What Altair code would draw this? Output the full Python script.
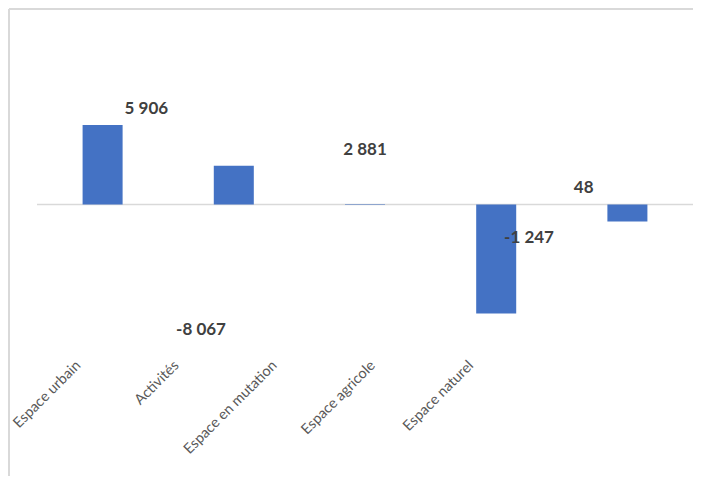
import altair as alt
import pandas as pd

categories = ["Espace urbain", "Activités", "Espace en mutation", "Espace agricole", "Espace naturel"]
values = [5906, 2881, 48, -8067, -1247]
labels = ["5 906", "2 881", "48", "-8 067", "-1 247"]
title_lines = ["Evolution de l'occupation des sols",
               "entre 2000-2015 sur l'aire urbaine de Lyon (en hectares)"]

df = pd.DataFrame({"cat": categories, "val": values, "lab": labels})
df_pos = df[df["val"] >= 0].reset_index(drop=True)
df_neg = df[df["val"] < 0].reset_index(drop=True)
df_zero = pd.DataFrame({"z": [0]})

FONT = "Lato"

x = alt.X("cat:N", sort=categories, title=None,
          scale=alt.Scale(paddingInner=0.695, paddingOuter=0.3475), axis=None)
y = alt.Y("val:Q", title=None, axis=None,
          scale=alt.Scale(domain=[-9000, 8200], nice=False))

bars = alt.Chart(df).mark_bar(color="#4472C4").encode(x=x, y=y)

zero = alt.Chart(df_zero).mark_rule(color="#D9D9D9", strokeWidth=1.5).encode(
    y=alt.Y("z:Q", axis=None))

pos = alt.Chart(df_pos).mark_text(
    font=FONT, fontSize=17, fontWeight="bold", color="#404040",
    baseline="alphabetic", dy=-11).encode(x=x, y=y, text="lab:N")
neg = alt.Chart(df_neg).mark_text(
    font=FONT, fontSize=17, fontWeight="bold", color="#404040",
    baseline="alphabetic", dy=22).encode(x=x, y=y, text="lab:N")

# category labels sit on a compressed band, as in the original picture
label_axis = alt.Chart(df).mark_point(opacity=0).encode(
    x=alt.X("cat:N", sort=categories, title=None,
            scale=alt.Scale(range=[-8, 483], paddingInner=0, paddingOuter=0),
            axis=alt.Axis(labelAngle=-45, labelAlign="right", labelBaseline="middle",
                          labelFont=FONT, labelFontSize=14.5, labelColor="#595959",
                          ticks=False, domain=False, labelPadding=37)),
    y=y)

border_left = alt.Chart(df_zero).mark_rule(color="#D9D9D9", strokeWidth=2).encode(
    x=alt.value(-28), y=alt.value(-85), y2=alt.value(400))
border_top = alt.Chart(df_zero).mark_rule(color="#D9D9D9", strokeWidth=2).encode(
    x=alt.value(-28), x2=alt.value(660), y=alt.value(-85))

chart = alt.layer(border_left, border_top, zero, bars, pos, neg, label_axis).resolve_scale(
    x="independent").properties(
    width=656, height=232,
    title=alt.TitleParams(text=title_lines, font=FONT, fontSize=21, fontWeight="bold",
                          color="#595959", anchor="middle", offset=21, dx=-9),
    autosize=alt.AutoSizeParams(type="none"),
    padding={"left": 29, "top": 86, "right": 0, "bottom": 150},
).configure_view(strokeWidth=0)

chart.save("out.html", embed_options={"renderer": "svg", "actions": False})
